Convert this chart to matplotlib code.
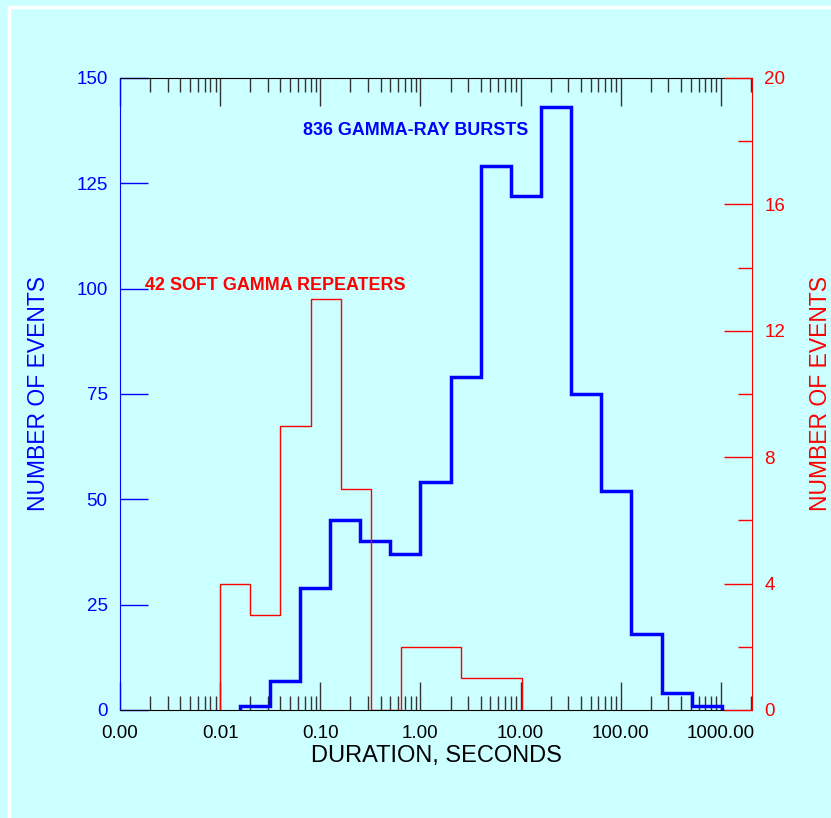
import matplotlib
matplotlib.use('Agg')
import matplotlib.pyplot as plt
from matplotlib.ticker import LogLocator, FuncFormatter, MultipleLocator, NullFormatter
import matplotlib.patches as mpatches

plt.rcParams['font.family'] = ['Liberation Sans', 'DejaVu Sans']

# gamma-ray bursts: bins are powers of two in seconds
grb_edges = [2.0 ** k for k in range(-6, 11)]
grb_counts = [1, 7, 29, 45, 40, 37, 54, 79, 129, 122, 143, 75, 52, 18, 4, 1]

# soft gamma repeaters
sgr_edges = [0.01, 0.02, 0.04, 0.08, 0.16, 0.32, 0.64, 1.28, 2.56, 5.12, 10.24]
sgr_counts = [4, 3, 9, 13, 7, 0, 2, 2, 1, 1]

xtick_vals = [0.001, 0.01, 0.1, 1, 10, 100, 1000]

bg = '#ccffff'
fig = plt.figure(figsize=(8.31, 8.18), dpi=100, facecolor=bg)
# white frame
fig.patches.append(mpatches.Rectangle((9 / 831, -0.1), 1.2, 1.1 - 7 / 818, transform=fig.transFigure,
                                      fill=False, edgecolor='white', linewidth=2.5))

ax = fig.add_axes([120 / 831, 1 - 710 / 818, 632 / 831, 632 / 818])
ax.set_facecolor(bg)
ax.set_xscale('log')
ax.set_xlim(0.001, 2048)
ax.set_ylim(0, 150)

ax.stairs(grb_counts, grb_edges, color='#0000ff', linewidth=2.5, zorder=3)

ax.xaxis.set_major_locator(LogLocator(base=10, numticks=20))
ax.xaxis.set_minor_locator(LogLocator(base=10, subs=range(2, 10), numticks=50))
ax.xaxis.set_major_formatter(FuncFormatter(lambda v, p: '%.2f' % v))
ax.xaxis.set_minor_formatter(NullFormatter())
ax.set_xticks(xtick_vals)
ax.tick_params(axis='x', which='major', direction='in', length=20, width=1, colors='#333333',
               top=True, bottom=True, labelsize=13.5, pad=11, labelcolor='black')
ax.tick_params(axis='x', which='minor', direction='in', length=10, width=1, colors='#333333',
               top=True, bottom=True)

ax.yaxis.set_major_locator(MultipleLocator(25))
ax.tick_params(axis='y', which='major', direction='in', length=20, width=1, colors='#0000ff',
               labelsize=13.5, pad=9)

ax.spines['left'].set_color('#0000ff')
ax.spines['right'].set_visible(False)
ax.spines['top'].set_color('black')
ax.spines['bottom'].set_color('black')

ax.set_xlabel('DURATION, SECONDS', fontsize=17, labelpad=2)
ax.set_ylabel('NUMBER OF EVENTS', fontsize=16.5, color='#0000ff', labelpad=19)

ax2 = ax.twinx()
ax2.set_ylim(0, 20)
ax2.stairs(sgr_counts, sgr_edges, color='#ff0000', linewidth=1, zorder=2)
ax2.yaxis.set_major_locator(MultipleLocator(4))
ax2.yaxis.set_minor_locator(MultipleLocator(2))
ax2.tick_params(axis='y', which='major', direction='in', length=20, width=1, colors='#ff0000',
                labelsize=13.5, pad=9)
ax2.tick_params(axis='y', which='minor', direction='in', length=10, width=1, colors='#ff0000')
ax2.spines['right'].set_color('#ff0000')
ax2.spines['left'].set_visible(False)
ax2.spines['top'].set_visible(False)
ax2.spines['bottom'].set_visible(False)
ax2.set_ylabel('NUMBER OF EVENTS', fontsize=16.5, color='#ff0000', rotation=90, labelpad=17)

ax.text(0.29, 0.917, '836 GAMMA-RAY BURSTS', transform=ax.transAxes, color='#0000ff',
        fontsize=12.9, fontweight='bold', va='center', ha='left')
ax.text(0.04, 0.672, '42 SOFT GAMMA REPEATERS', transform=ax.transAxes, color='#ff0000',
        fontsize=12.9, fontweight='bold', va='center', ha='left')

fig.savefig('out.png', dpi=100, facecolor=bg)
